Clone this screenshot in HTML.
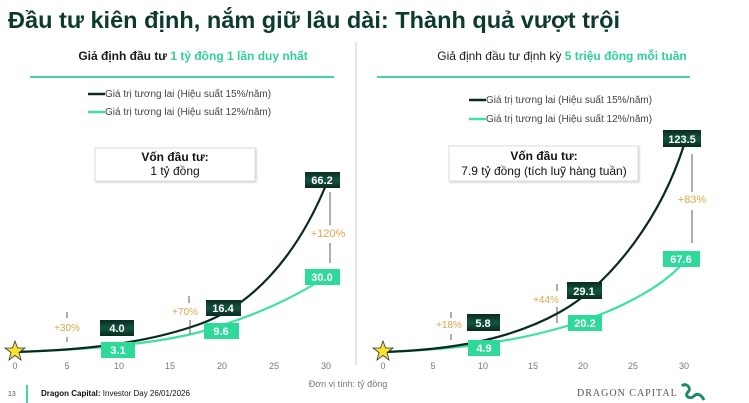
<!DOCTYPE html>
<html><head><meta charset="utf-8"><style>
body{margin:0;width:749px;height:403px;background:#fff;overflow:hidden}
svg{display:block;font-family:"Liberation Sans",sans-serif}
</style></head><body>
<svg width="749" height="403" viewBox="0 0 749 403">
<defs>
<linearGradient id="dk" x1="0" y1="0" x2="0" y2="1"><stop offset="0" stop-color="#0a2a20"/><stop offset="0.5" stop-color="#125540"/><stop offset="1" stop-color="#0a2a20"/></linearGradient>
</defs>
<text x="8" y="28" font-size="23.5" font-weight="bold" fill="#0c3a2c" textLength="612" lengthAdjust="spacingAndGlyphs">Đầu tư kiên định, nắm giữ lâu dài: Thành quả vượt trội</text>
<line x1="356" y1="42" x2="356" y2="365" stroke="#ccc" stroke-width="1"/>
<text x="193" y="60" font-size="12" font-weight="bold" fill="#1a1a1a" text-anchor="middle">Giả định đầu tư <tspan fill="#2fd19a">1 tỷ đồng 1 lần duy nhất</tspan></text>
<line x1="30" y1="77" x2="334" y2="77" stroke="#45d3a8" stroke-width="2"/>
<line x1="88" y1="94" x2="105" y2="94" stroke="#0a2a20" stroke-width="2.5"/>
<text x="105" y="97" font-size="10" fill="#444">Giá trị tương lai (Hiệu suất 15%/năm)</text>
<line x1="88" y1="112" x2="105" y2="112" stroke="#3fe0a0" stroke-width="2.5"/>
<text x="105" y="115" font-size="10" fill="#444">Giá trị tương lai (Hiệu suất 12%/năm)</text>
<rect x="95" y="148" width="160" height="33" fill="#fff" stroke="#ddd" style="filter:drop-shadow(1px 1px 1px #ccc)"/>
<text x="175" y="161" font-size="12" font-weight="bold" fill="#111" text-anchor="middle">Vốn đầu tư:</text>
<text x="175" y="175" font-size="12" fill="#111" text-anchor="middle">1 tỷ đồng</text>
<path d="M15,352 C80,350 150,345 200,332 C250,318 290,300 326,277" fill="none" stroke="#3fe0a0" stroke-width="2.2"/>
<path d="M15,352 C90,350 150,342 200,324 C250,306 295,260 326,185" fill="none" stroke="#0a2a20" stroke-width="2.2"/>
<g font-size="9" fill="#777" text-anchor="middle">
<text x="15" y="369">0</text><text x="67" y="369">5</text><text x="119" y="369">10</text><text x="170" y="369">15</text><text x="222" y="369">20</text><text x="274" y="369">25</text><text x="326" y="369">30</text>
</g>
<g font-size="11" font-weight="bold" fill="#fff" text-anchor="middle">
<rect x="100" y="320" width="34" height="16" fill="url(#dk)"/><text x="117" y="332">4.0</text>
<rect x="101" y="342" width="34" height="16" fill="#2fd99a"/><text x="118" y="354">3.1</text>
<rect x="206" y="300" width="35" height="16" fill="url(#dk)"/><text x="223" y="312">16.4</text>
<rect x="204" y="323" width="35" height="16" fill="#2fd99a"/><text x="221" y="335">9.6</text>
<rect x="305" y="172" width="35" height="16" fill="url(#dk)"/><text x="322" y="184">66.2</text>
<rect x="305" y="269" width="35" height="16" fill="#2fd99a"/><text x="322" y="281">30.0</text>
</g>
<g font-size="10" fill="#d9a94a" text-anchor="middle">
<text x="67" y="331">+30%</text><text x="185" y="315">+70%</text><text x="328" y="237" font-size="11">+120%</text>
</g>
<g stroke="#333" stroke-width="0.8">
<line x1="67" y1="312" x2="67" y2="318"/><line x1="67" y1="337" x2="67" y2="342"/>
<line x1="189" y1="296" x2="189" y2="303"/><line x1="190" y1="320" x2="190" y2="334"/>
<line x1="330" y1="192" x2="330" y2="225"/><line x1="330" y1="243" x2="330" y2="263"/>
</g>
<polygon points="15,341 17.5,348 25,348 19,352.5 21,360 15,355.5 9,360 11,352.5 5,348 12.5,348" fill="#f5e332" stroke="#333" stroke-width="0.8"/>
<text x="562" y="60" font-size="12" fill="#1a1a1a" text-anchor="middle">Giả định đầu tư định kỳ <tspan fill="#2fd19a" font-weight="bold">5 triệu đồng mỗi tuần</tspan></text>
<line x1="377" y1="77" x2="690" y2="77" stroke="#45d3a8" stroke-width="2"/>
<line x1="469" y1="100" x2="486" y2="100" stroke="#0a2a20" stroke-width="2.5"/>
<text x="486" y="103" font-size="10" fill="#444">Giá trị tương lai (Hiệu suất 15%/năm)</text>
<line x1="469" y1="119" x2="486" y2="119" stroke="#3fe0a0" stroke-width="2.5"/>
<text x="486" y="122" font-size="10" fill="#444">Giá trị tương lai (Hiệu suất 12%/năm)</text>
<rect x="449" y="146" width="189" height="35" fill="#fff" stroke="#ddd" style="filter:drop-shadow(1px 1px 1px #ccc)"/>
<text x="544" y="160" font-size="12" font-weight="bold" fill="#111" text-anchor="middle">Vốn đầu tư:</text>
<text x="544" y="175" font-size="12" fill="#111" text-anchor="middle">7.9 tỷ đồng (tích luỹ hàng tuần)</text>
<path d="M383,352 C440,350 500,345 560,328 C610,314 660,290 684,262" fill="none" stroke="#3fe0a0" stroke-width="2.2"/>
<path d="M383,352 C450,350 510,340 560,312 C610,284 660,220 684,145" fill="none" stroke="#0a2a20" stroke-width="2.2"/>
<g font-size="9" fill="#777" text-anchor="middle">
<text x="383" y="369">0</text><text x="433" y="369">5</text><text x="483" y="369">10</text><text x="533" y="369">15</text><text x="583" y="369">20</text><text x="633" y="369">25</text><text x="684" y="369">30</text>
</g>
<g font-size="11" font-weight="bold" fill="#fff" text-anchor="middle">
<rect x="467" y="314" width="33" height="17" fill="url(#dk)"/><text x="483" y="327">5.8</text>
<rect x="468" y="340" width="32" height="16" fill="#2fd99a"/><text x="484" y="352">4.9</text>
<rect x="567" y="282" width="35" height="17" fill="url(#dk)"/><text x="584" y="295">29.1</text>
<rect x="568" y="315" width="34" height="16" fill="#2fd99a"/><text x="585" y="327">20.2</text>
<rect x="663" y="130" width="38" height="17" fill="url(#dk)"/><text x="682" y="143">123.5</text>
<rect x="663" y="251" width="37" height="16" fill="#2fd99a"/><text x="681" y="263">67.6</text>
</g>
<g font-size="10" fill="#d9a94a" text-anchor="middle">
<text x="449" y="328">+18%</text><text x="546" y="303">+44%</text><text x="692" y="203" font-size="11">+83%</text>
</g>
<g stroke="#333" stroke-width="0.8">
<line x1="451" y1="312" x2="451" y2="318"/><line x1="451" y1="334" x2="451" y2="340"/>
<line x1="557" y1="284" x2="557" y2="291"/><line x1="557" y1="307" x2="557" y2="323"/>
<line x1="692" y1="154" x2="692" y2="192"/><line x1="692" y1="210" x2="692" y2="243"/>
</g>
<polygon points="383,341 385.5,348 393,348 387,352.5 389,360 383,355.5 377,360 379,352.5 373,348 380.5,348" fill="#f5e332" stroke="#333" stroke-width="0.8"/>
<text x="348" y="387" font-size="9" fill="#777" text-anchor="middle">Đơn vị tính: tỷ đồng</text>
<text x="8" y="396" font-size="7" fill="#555">13</text>
<rect x="26" y="385" width="2" height="18" fill="#45d3a8"/>
<text x="41" y="396" font-size="8" fill="#111"><tspan font-weight="bold">Dragon Capital:</tspan> Investor Day 26/01/2026</text>
<text x="577" y="396" font-size="10" fill="#555" font-family="Liberation Serif,serif" letter-spacing="1">DRAGON CAPITAL</text>
<path d="M682,386 c4,-4 10,2 6,6 c-4,4 2,8 6,4 c4,-4 8,0 10,4" fill="none" stroke="#1f8a6a" stroke-width="3"/>
</svg>
</body></html>
